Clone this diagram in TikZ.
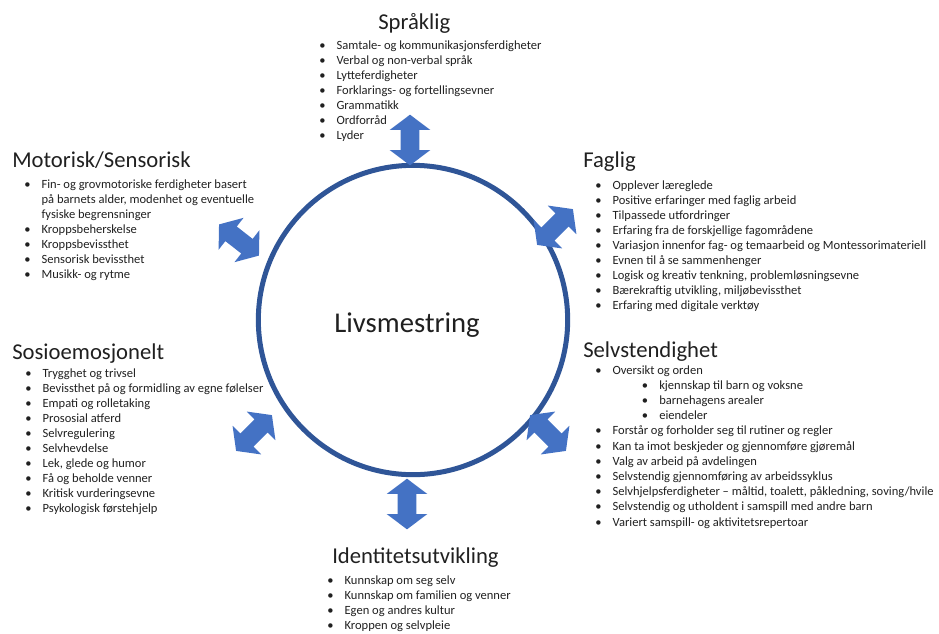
\documentclass[tikz,border=0pt]{standalone}
\usepackage{fontspec}
\setmainfont{Carlito}
\usepackage{xcolor}
\usepackage{tikz}
\usetikzlibrary{shapes.arrows}
\definecolor{arrowblue}{RGB}{68, 114, 196}
\definecolor{ringblue}{RGB}{47, 85, 151}
\definecolor{textgray}{RGB}{32, 32, 32}
\newcommand{\bul}{\makebox[13pt][l]{\textbullet}}
\newcommand{\subbul}{\hspace*{35pt}\bul}
\newcommand{\cont}{\hspace*{13pt}}

\begin{document}
\begin{tikzpicture}[x=0.75pt, y=-0.75pt,
    heading/.style={anchor=base west, inner sep=0, text=textgray, font=\fontsize{17}{20}\selectfont},
    item/.style={anchor=base west, inner sep=0, text=textgray, font=\fontsize{9.4}{11}\selectfont},
    link/.style={double arrow, fill=arrowblue, inner xsep=0, inner ysep=6.75pt,
        minimum height=38pt, double arrow head extend=8.25pt, double arrow tip angle=106}]
            \useasboundingbox (0,0) rectangle (939,633);

            % Centre ring
            \node[circle, draw=ringblue, line width=3.75pt, minimum size=232pt, inner sep=0] (livs) at (413,320) {};
            \node[text=textgray, font=\fontsize{21.5}{26}\selectfont] (livs-label) at (407,325) {Livsmestring};

            % Arrows round the ring
            \node[link, rotate=90] (sprak-arrow) at (410,140) {};
            \node[link, rotate=90] (ident-arrow) at (407,504) {};
            \node[link, rotate=-38] (motor-arrow) at (239,240) {};
            \node[link, rotate=45] (fag-arrow) at (555,227) {};
            \node[link, rotate=45] (sosio-arrow) at (254,433) {};
            \node[link, rotate=-45] (selv-arrow) at (548,433) {};

            % Språklig
            \node[heading] (sprak) at (378,29) {Språklig};
            \foreach \txt [count=\i] in {{\bul Samtale- og kommunikasjonsferdigheter},
                {\bul Verbal og non-verbal språk}, {\bul Lytteferdigheter},
                {\bul Forklarings- og fortellingsevner}, {\bul Grammatikk},
                {\bul Ordforråd}, {\bul Lyder}}
                \node[item] (sprak-\i) at (319,{49+15*(\i-1)}) {\txt};

            % Motorisk/Sensorisk
            \node[heading] (motor) at (12,167) {Motorisk/Sensorisk};
            \foreach \txt [count=\i] in {{\bul Fin- og grovmotoriske ferdigheter basert},
                {\cont på barnets alder, modenhet og eventuelle}, {\cont fysiske begrensninger},
                {\bul Kroppsbeherskelse}, {\bul Kroppsbevissthet},
                {\bul Sensorisk bevissthet}, {\bul Musikk- og rytme}}
                \node[item] (motor-\i) at (24,{188+15*(\i-1)}) {\txt};

            % Faglig
            \node[heading] (fag) at (583,167) {Faglig};
            \foreach \txt [count=\i] in {{\bul Opplever læreglede},
                {\bul Positive erfaringer med faglig arbeid}, {\bul Tilpassede utfordringer},
                {\bul Erfaring fra de forskjellige fagområdene},
                {\bul Variasjon innenfor fag- og temaarbeid og Montessorimateriell},
                {\bul Evnen til å se sammenhenger},
                {\bul Logisk og kreativ tenkning, problemløsningsevne},
                {\bul Bærekraftig utvikling, miljøbevissthet},
                {\bul Erfaring med digitale verktøy}}
                \node[item] (fag-\i) at (595,{189+15.1*(\i-1)}) {\txt};

            % Sosioemosjonelt
            \node[heading] (sosio) at (12,359) {Sosioemosjonelt};
            \foreach \txt [count=\i] in {{\bul Trygghet og trivsel},
                {\bul Bevissthet på og formidling av egne følelser},
                {\bul Empati og rolletaking}, {\bul Prososial atferd},
                {\bul Selvregulering}, {\bul Selvhevdelse}, {\bul Lek, glede og humor},
                {\bul Få og beholde venner}, {\bul Kritisk vurderingsevne},
                {\bul Psykologisk førstehjelp}}
                \node[item] (sosio-\i) at (25,{377+15*(\i-1)}) {\txt};

            % Selvstendighet
            \node[heading] (selv) at (583,357) {Selvstendighet};
            \foreach \txt [count=\i] in {{\bul Oversikt og orden},
                {\subbul kjennskap til barn og voksne}, {\subbul barnehagens arealer},
                {\subbul eiendeler}, {\bul Forstår og forholder seg til rutiner og regler},
                {\bul Kan ta imot beskjeder og gjennomføre gjøremål},
                {\bul Valg av arbeid på avdelingen},
                {\bul Selvstendig gjennomføring av arbeidssyklus},
                {\bul Selvhjelpsferdigheter – måltid, toalett, påkledning, soving/hvile},
                {\bul Selvstendig og utholdent i samspill med andre barn},
                {\bul Variert samspill- og aktivitetsrepertoar}}
                \node[item] (selv-\i) at (595,{374+15.2*(\i-1)}) {\txt};

            % Identitetsutvikling
            \node[heading] (ident) at (332,563) {Identitetsutvikling};
            \foreach \txt [count=\i] in {{\bul Kunnskap om seg selv},
                {\bul Kunnskap om familien og venner}, {\bul Egen og andres kultur},
                {\bul Kroppen og selvpleie}}
                \node[item] (ident-\i) at (327,{584+15*(\i-1)}) {\txt};
        \end{tikzpicture}
\end{document}
